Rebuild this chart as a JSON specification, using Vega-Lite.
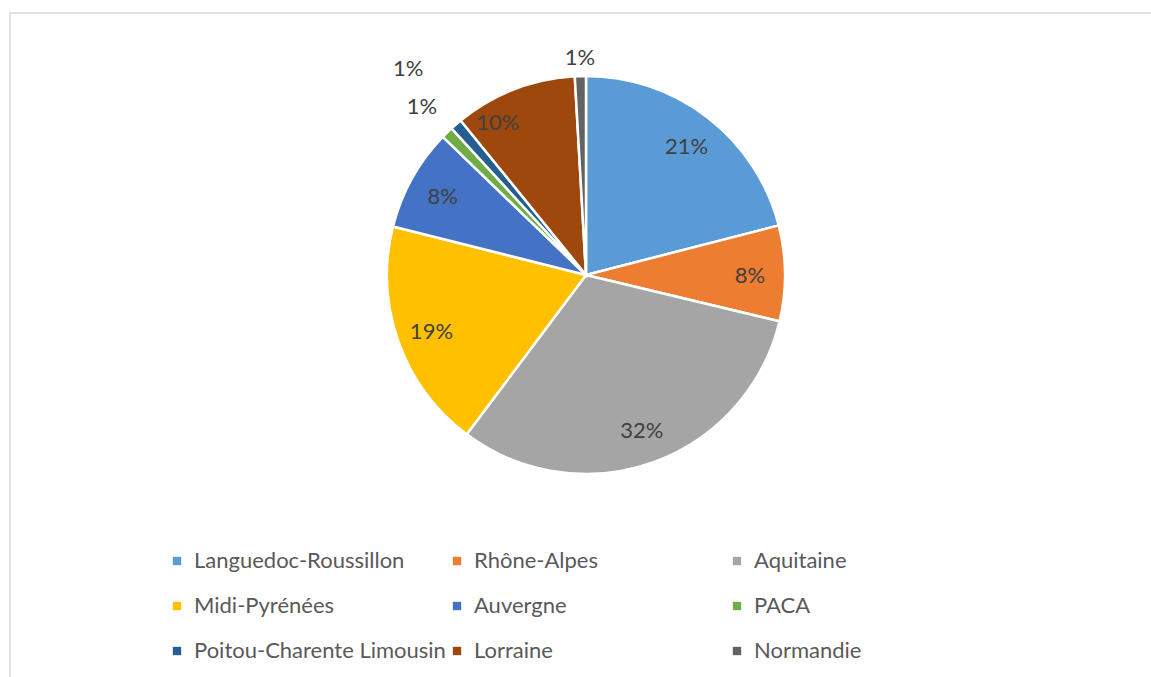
{
  "$schema": "https://vega.github.io/schema/vega-lite/v6.json",
  "width": 1152,
  "height": 700,
  "autosize": "none",
  "padding": {"left": 10, "top": 13, "right": 0, "bottom": 0},
  "view": {"stroke": "#d9d9d9", "strokeWidth": 1.5},
  "config": {"view": {"stroke": "#d9d9d9", "strokeWidth": 1.5}, "font": "Lato"},
  "data": {"values": [
    {"region": "Languedoc-Roussillon", "value": 21.0, "order": 1, "label": "21%"},
    {"region": "Rhône-Alpes", "value": 7.75, "order": 2, "label": "8%"},
    {"region": "Aquitaine", "value": 31.5, "order": 3, "label": "32%"},
    {"region": "Midi-Pyrénées", "value": 18.7, "order": 4, "label": "19%"},
    {"region": "Auvergne", "value": 8.3, "order": 5, "label": "8%"},
    {"region": "PACA", "value": 0.97, "order": 6, "label": "1%"},
    {"region": "Poitou-Charente Limousin", "value": 0.97, "order": 7, "label": "1%"},
    {"region": "Lorraine", "value": 9.95, "order": 8, "label": "10%"},
    {"region": "Normandie", "value": 0.9, "order": 9, "label": "1%"}
  ]},
  "encoding": {
    "theta": {"field": "value", "type": "quantitative", "stack": true},
    "order": {"field": "order", "type": "quantitative"}
  },
  "layer": [
    {
      "mark": {"type": "arc", "outerRadius": 199, "stroke": "white", "strokeWidth": 2.5, "yOffset": -88},
      "encoding": {
        "color": {
          "field": "region", "type": "nominal",
          "scale": {
            "domain": ["Languedoc-Roussillon", "Rhône-Alpes", "Aquitaine", "Midi-Pyrénées", "Auvergne", "PACA", "Poitou-Charente Limousin", "Lorraine", "Normandie"],
            "range": ["#5B9BD5", "#ED7D31", "#A5A5A5", "#FFC000", "#4472C4", "#70AD47", "#255E91", "#9E480E", "#636363"]
          },
          "sort": null,
          "legend": {
            "title": null, "orient": "none", "legendX": 156, "legendY": 537, "direction": "horizontal",
            "columns": 3, "gridAlign": "all", "columnPadding": 0, "rowPadding": 23,
            "symbolType": "square", "symbolSize": 70, "symbolStrokeWidth": 0,
            "labelFontSize": 22, "labelColor": "#595959", "labelOffset": 6, "padding": 0,
            "labelLimit": 400
          }
        }
      }
    },
    {
      "mark": {"type": "text", "radius": 164, "fontSize": 22, "fill": "#404040", "yOffset": -86},
      "encoding": {"text": {"condition": {"test": "datum.value > 5 && datum.region != 'Lorraine'", "field": "label"}, "value": ""}}
    },
    {
      "mark": {"type": "text", "radius": 164, "fontSize": 22, "fill": "#404040", "yOffset": -87, "xOffset": -29},
      "encoding": {"text": {"condition": {"test": "datum.region == 'Lorraine'", "field": "label"}, "value": ""}}
    },
    {
      "mark": {"type": "text", "radius": 217, "fontSize": 22, "fill": "#404040", "yOffset": -88},
      "encoding": {"text": {"condition": {"test": "datum.region == 'Normandie'", "field": "label"}, "value": ""}}
    },
    {
      "mark": {"type": "text", "radius": 235, "fontSize": 22, "fill": "#404040", "yOffset": -88},
      "encoding": {"text": {"condition": {"test": "datum.region == 'PACA'", "field": "label"}, "value": ""}}
    },
    {
      "mark": {"type": "text", "radius": 272, "fontSize": 22, "fill": "#404040", "yOffset": -88},
      "encoding": {"text": {"condition": {"test": "datum.region == 'Poitou-Charente Limousin'", "field": "label"}, "value": ""}}
    }
  ]
}
